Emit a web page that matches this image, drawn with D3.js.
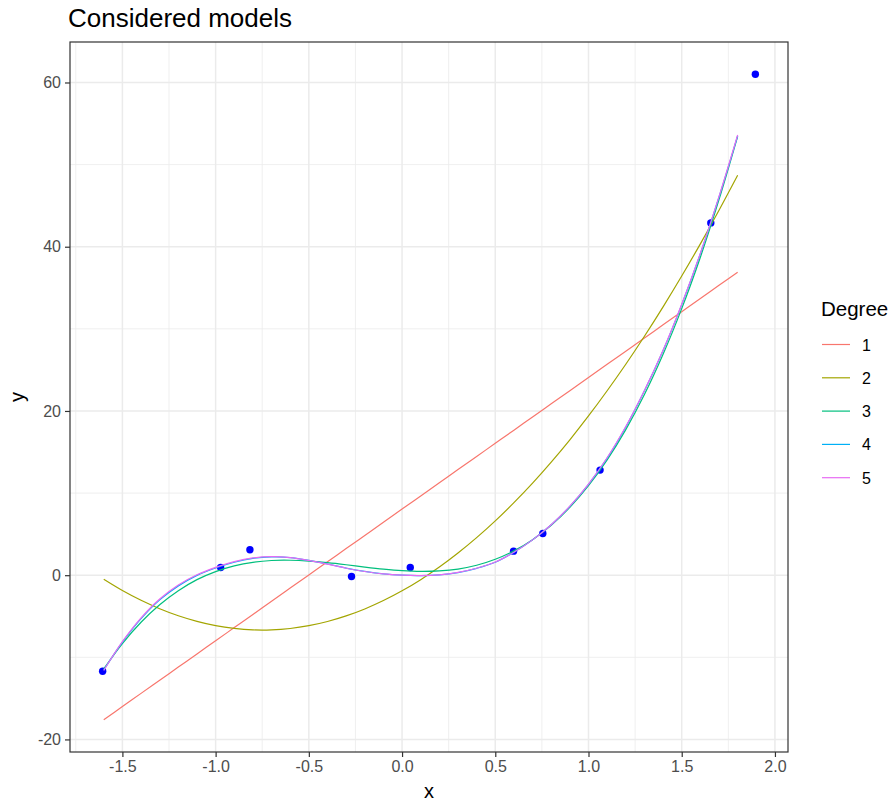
<!DOCTYPE html>
<html>
<head>
<meta charset="utf-8">
<script src="https://cdn.jsdelivr.net/npm/d3@7"></script>
<style>
  body { margin: 0; background: #fff; }
  svg { display: block; }
  text { font-family: "Liberation Sans", Arial, sans-serif; }
</style>
</head>
<body>
<svg id="chart" width="894" height="805"></svg>
<script>
// ---- data ----
const pointX = [-1.606, -0.973, -0.816, -0.271, 0.044, 0.598, 0.755, 1.062, 1.656, 1.895];
const pointY = [-11.7, 0.94, 3.09, -0.16, 0.94, 2.93, 5.08, 12.8, 42.9, 61.0];

const gridX = [-1.6, -1.5, -1.4, -1.3, -1.2, -1.1, -1.0, -0.9, -0.8, -0.7, -0.6, -0.5, -0.4, -0.3, -0.2, -0.1,
               0.0, 0.1, 0.2, 0.3, 0.4, 0.5, 0.6, 0.7, 0.8, 0.9, 1.0, 1.1, 1.2, 1.3, 1.4, 1.5, 1.6, 1.7, 1.8];

const degree1 = [-17.60, -16.00, -14.39, -12.79, -11.19, -9.59, -7.98, -6.38, -4.78, -3.17, -1.57, 0.03, 1.63, 3.24, 4.84, 6.44,
                 8.05, 9.65, 11.25, 12.86, 14.46, 16.06, 17.66, 19.27, 20.87, 22.47, 24.08, 25.68, 27.28, 28.88, 30.49, 32.09, 33.69, 35.30, 36.90];
const degree2 = [-0.50, -1.87, -3.06, -4.08, -4.94, -5.62, -6.14, -6.48, -6.66, -6.66, -6.49, -6.15, -5.64, -4.96, -4.11, -3.09,
                 -1.90, -0.54, 0.99, 2.70, 4.57, 6.61, 8.83, 11.21, 13.77, 16.49, 19.39, 22.46, 25.69, 29.10, 32.68, 36.43, 40.35, 44.44, 48.70];
const degree3 = [-11.40, -8.32, -5.73, -3.60, -1.89, -0.54, 0.44, 1.13, 1.57, 1.79, 1.82, 1.72, 1.52, 1.27, 0.99, 0.74,
                 0.55, 0.46, 0.52, 0.75, 1.21, 1.94, 2.96, 4.33, 6.08, 8.26, 10.90, 14.04, 17.73, 22.00, 26.90, 32.46, 38.72, 45.73, 53.45];
const degree4 = [-11.55, -8.15, -5.30, -3.00, -1.30, -0.02, 0.88, 1.58, 2.05, 2.22, 2.15, 1.80, 1.36, 0.87, 0.46, 0.16,
                 0.00, -0.04, 0.05, 0.32, 0.84, 1.58, 2.80, 4.30, 6.14, 8.38, 11.05, 14.25, 18.05, 22.45, 27.35, 32.95, 39.15, 46.05, 53.50];
const degree5 = [-11.60, -8.10, -5.20, -2.90, -1.20, 0.05, 0.95, 1.65, 2.10, 2.25, 2.15, 1.80, 1.35, 0.85, 0.45, 0.15,
                 0.00, -0.05, 0.05, 0.35, 0.85, 1.60, 2.80, 4.30, 6.15, 8.40, 11.10, 14.30, 18.10, 22.50, 27.40, 33.00, 39.20, 46.10, 53.60];

const degreeLabels = ["1", "2", "3", "4", "5"];
const degreeSeries = [degree1, degree2, degree3, degree4, degree5];
const degreeColors = ["#F8766D", "#A3A500", "#00BF7D", "#00B0F6", "#E76BF3"];

const xTicks = [-1.5, -1.0, -0.5, 0.0, 0.5, 1.0, 1.5, 2.0];
const xMinor = [-1.75, -1.25, -0.75, -0.25, 0.25, 0.75, 1.25, 1.75];
const yTicks = [-20, 0, 20, 40, 60];
const yMinor = [-10, 10, 30, 50];

// ---- layout ----
const svg = d3.select("#chart");
const panel = { left: 70, right: 788, top: 42, bottom: 752 };

const allX = pointX.concat(gridX);
const allY = pointY.concat(...degreeSeries);
const xe = d3.extent(allX), ye = d3.extent(allY);
const xpad = (xe[1] - xe[0]) * 0.05, ypad = (ye[1] - ye[0]) * 0.05;

const x = d3.scaleLinear().domain([xe[0] - xpad, xe[1] + xpad]).range([panel.left, panel.right]);
const y = d3.scaleLinear().domain([ye[0] - ypad, ye[1] + ypad]).range([panel.bottom, panel.top]);

svg.append("rect").attr("x", panel.left).attr("y", panel.top)
  .attr("width", panel.right - panel.left).attr("height", panel.bottom - panel.top)
  .attr("fill", "#fff");

const grid = svg.append("g");
grid.selectAll(".xmin").data(xMinor).join("line")
  .attr("x1", d => x(d)).attr("x2", d => x(d)).attr("y1", panel.top).attr("y2", panel.bottom)
  .attr("stroke", "#EBEBEB").attr("stroke-width", 0.8);
grid.selectAll(".ymin").data(yMinor).join("line")
  .attr("y1", d => y(d)).attr("y2", d => y(d)).attr("x1", panel.left).attr("x2", panel.right)
  .attr("stroke", "#EBEBEB").attr("stroke-width", 0.8);
grid.selectAll(".xmaj").data(xTicks).join("line")
  .attr("x1", d => x(d)).attr("x2", d => x(d)).attr("y1", panel.top).attr("y2", panel.bottom)
  .attr("stroke", "#EBEBEB").attr("stroke-width", 1.5);
grid.selectAll(".ymaj").data(yTicks).join("line")
  .attr("y1", d => y(d)).attr("y2", d => y(d)).attr("x1", panel.left).attr("x2", panel.right)
  .attr("stroke", "#EBEBEB").attr("stroke-width", 1.5);

// points
svg.append("g").selectAll("circle").data(pointX).join("circle")
  .attr("cx", d => x(d)).attr("cy", (d, i) => y(pointY[i])).attr("r", 3.7)
  .attr("fill", "#0000FF");

// lines
const line = d3.line().x((d, i) => x(gridX[i])).y(d => y(d)).curve(d3.curveCatmullRom);
svg.append("g").selectAll("path").data(degreeSeries).join("path")
  .attr("d", d => line(d)).attr("fill", "none")
  .attr("stroke", (d, i) => degreeColors[i]).attr("stroke-width", 1.2);

// border
svg.append("rect").attr("x", panel.left).attr("y", panel.top)
  .attr("width", panel.right - panel.left).attr("height", panel.bottom - panel.top)
  .attr("fill", "none").attr("stroke", "#333333").attr("stroke-width", 1.2);

// axes
const xAxis = svg.append("g").attr("transform", `translate(0,${panel.bottom})`)
  .call(d3.axisBottom(x).tickValues(xTicks).tickFormat(d3.format(".1f")).tickSize(5).tickPadding(4));
const yAxis = svg.append("g").attr("transform", `translate(${panel.left},0)`)
  .call(d3.axisLeft(y).tickValues(yTicks).tickFormat(d => d).tickSize(5).tickPadding(4));
[xAxis, yAxis].forEach(a => {
  a.select(".domain").remove();
  a.selectAll(".tick line").attr("stroke", "#333333").attr("stroke-width", 1.2);
  a.selectAll(".tick text").attr("fill", "#4D4D4D").style("font-size", "16px")
    .style("font-family", '"Liberation Sans", Arial, sans-serif');
});
xAxis.selectAll(".tick text").text(d => d3.format(".1f")(d).replace("−", "-"));
yAxis.selectAll(".tick text").text(d => String(d));

// titles
svg.append("text").attr("x", 68).attr("y", 27).text("Considered models")
  .style("font-size", "26px").attr("fill", "#000");
svg.append("text").attr("x", (panel.left + panel.right) / 2).attr("y", 798)
  .attr("text-anchor", "middle").text("x").style("font-size", "20px");
svg.append("text").attr("transform", `translate(24,${(panel.top + panel.bottom) / 2}) rotate(-90)`)
  .attr("text-anchor", "middle").text("y").style("font-size", "20px");

// legend
const legend = svg.append("g");
legend.append("text").attr("x", 821).attr("y", 316).text("Degree").style("font-size", "20.5px");
const keyY = d3.scalePoint().domain(degreeLabels).range([344.5, 477.7]);
const items = legend.selectAll(".item").data(degreeLabels).join("g")
  .attr("transform", d => `translate(0,${keyY(d)})`);
items.append("line").attr("x1", 822).attr("x2", 850).attr("y1", 0).attr("y2", 0)
  .attr("stroke", (d, i) => degreeColors[i]).attr("stroke-width", 1.2);
items.append("text").attr("x", 862).attr("y", 6).text(d => d).style("font-size", "16px");
</script>
</body>
</html>
